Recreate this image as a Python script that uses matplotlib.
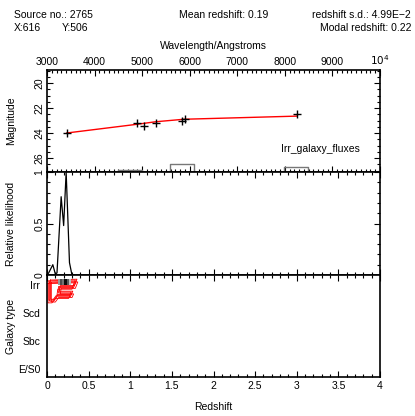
import matplotlib
matplotlib.use("Agg")
import matplotlib.pyplot as plt
from matplotlib.ticker import MultipleLocator
import numpy as np

plt.rcParams['font.family'] = ['Liberation Sans', 'DejaVu Sans']
plt.rcParams['font.size'] = 7.5

# ---------------- data ----------------
obs_wavelength = [3414, 4898, 5039, 5285, 5844, 5901, 8249]
obs_magnitude = [24.0, 23.2, 23.45, 23.2, 23.0, 22.9, 22.5]
model_wavelength = [3414, 4898, 5285, 5880, 8249]
model_magnitude = [24.0, 23.3, 23.1, 22.9, 22.65]
filter_lo = [4490, 5590, 7990]
filter_hi = [5000, 6090, 8490]
filter_level = [26.95, 26.45, 26.7]
wl_ticks = [3000, 4000, 5000, 6000, 7000, 8000, 9000, 10000]
wl_labels = ['3000', '4000', '5000', '6000', '7000', '8000', '9000', '$10^4$']

like_z = [0.0, 0.02, 0.07, 0.10, 0.12, 0.17, 0.20, 0.23, 0.27, 0.30, 0.32]
like_val = [0.0, 0.02, 0.10, 0.01, 0.02, 0.76, 0.48, 1.0, 0.12, 0.0, 0.0]

type_labels = ['E/S0', 'Sbc', 'Scd', 'Irr']
contour_z = [0.012, 0.33, 0.30, 0.13, 0.12, 0.28, 0.26, 0.10, 0.06, 0.012, 0.012]
contour_t = [3.05, 3.08, 2.85, 2.85, 2.65, 2.65, 2.52, 2.52, 2.36, 2.36, 3.05]
contour_dz = [0.0, 0.02, 0.04, 0.01, 0.03]
contour_dt = [0.0, 0.06, 0.03, 0.10, 0.13]
gray_z_edges = [0.136, 0.16, 0.185, 0.21, 0.235, 0.26, 0.285]
gray_t_edges = [3.0, 3.22]
gray_values = [0.6, 0.3, 0.45, 0.05, 0.35, 0.75]

# ---------------- figure ----------------
W, H = 415, 416
fig = plt.figure(figsize=(W / 100, H / 100), dpi=100)

def ax_px(top, bottom):
    return [47 / W, 1 - bottom / H, 333 / W, (bottom - top) / H]

ax1 = fig.add_axes(ax_px(70, 172))
ax2 = fig.add_axes(ax_px(172, 275))
ax3 = fig.add_axes(ax_px(275, 377))

for ax in (ax1, ax2, ax3):
    for s in ax.spines.values():
        s.set_linewidth(1.2)
    ax.tick_params(which='both', direction='in', width=0.8, top=True, right=True)
    ax.tick_params(which='major', length=4.5)
    ax.tick_params(which='minor', length=2.2)

# Top panel: photometry
ax1.plot(model_wavelength, model_magnitude, color='red', lw=1.0)
ax1.plot(obs_wavelength, obs_magnitude, ls='none', marker='+', color='black', ms=6, mew=1.0)
for lo, hi, lev in zip(filter_lo, filter_hi, filter_level):
    ax1.plot([lo, lo, hi, hi], [27.12, lev, lev, 27.12], color='#777777', lw=1.0)
ax1.set_xlim(3000, 10000)
ax1.set_ylim(27.12, 18.96)
ax1.set_xticks(wl_ticks)
ax1.set_xticklabels(wl_labels)
ax1.xaxis.set_minor_locator(MultipleLocator(100))
ax1.set_yticks([20, 22, 24, 26])
ax1.yaxis.set_minor_locator(MultipleLocator(0.5))
ax1.tick_params(axis='x', which='both', labeltop=True, labelbottom=False, pad=2)
ax1.tick_params(axis='y', labelrotation=90, pad=2)
for lab in ax1.get_yticklabels():
    lab.set_va('center')
ax1.xaxis.set_label_position('top')
ax1.set_xlabel('Wavelength/Angstroms', labelpad=3)
ax1.set_ylabel('Magnitude')
ax1.text(7919, 25.28, 'Irr_galaxy_fluxes', ha='left', va='center')

# Middle panel: likelihood
ax2.plot(like_z, like_val, color='black', lw=0.9)
ax2.set_xlim(0, 4)
ax2.set_ylim(0, 1)
ax2.xaxis.set_major_locator(MultipleLocator(0.5))
ax2.xaxis.set_minor_locator(MultipleLocator(0.1))
ax2.set_yticks([0, 0.5, 1])
ax2.set_yticklabels(['0', '0.5', '1'])
ax2.yaxis.set_minor_locator(MultipleLocator(0.1))
ax2.tick_params(axis='x', labelbottom=False)
ax2.tick_params(axis='y', labelrotation=90, pad=2)
for lab in ax2.get_yticklabels():
    lab.set_va('center')
ax2.set_ylabel('Relative likelihood')

# Bottom panel: galaxy type vs redshift
for dz, dt in zip(contour_dz, contour_dt):
    ax3.plot(np.array(contour_z) + dz, np.array(contour_t) + dt, color='red', lw=0.6, zorder=2)
ax3.pcolormesh(gray_z_edges, gray_t_edges, np.array([gray_values]), cmap='gray',
               vmin=0, vmax=1, zorder=3)
ax3.set_xlim(0, 4)
ax3.set_ylim(-0.3, 3.36)
ax3.set_xticks([0, 0.5, 1, 1.5, 2, 2.5, 3, 3.5, 4])
ax3.set_xticklabels(['0', '0.5', '1', '1.5', '2', '2.5', '3', '3.5', '4'])
ax3.xaxis.set_minor_locator(MultipleLocator(0.1))
ax3.set_yticks([0, 1, 2, 3])
ax3.set_yticklabels(type_labels)
ax3.tick_params(axis='y', which='both', left=False, right=False, pad=5)
ax3.tick_params(axis='x', pad=3)
ax3.set_xlabel('Redshift', labelpad=8)
ax3.set_ylabel('Galaxy type')

ax1.yaxis.set_label_coords(-31 / 333, 0.5)
ax2.yaxis.set_label_coords(-31 / 333, 0.5)
ax3.yaxis.set_label_coords(-31 / 333, 0.5)

# Header texts
def ftext(x, y, s, ha='left'):
    fig.text(x / W, 1 - y / H, s, ha=ha, va='center')

ftext(14, 15, 'Source no.: 2765')
ftext(179, 15, 'Mean redshift: 0.19')
ftext(411, 15, 'redshift s.d.: 4.99E\u22122', ha='right')
ftext(14, 28, 'X:616')
ftext(62, 28, 'Y:506')
ftext(411, 28, 'Modal redshift: 0.22', ha='right')

fig.savefig('out.png', dpi=100)
